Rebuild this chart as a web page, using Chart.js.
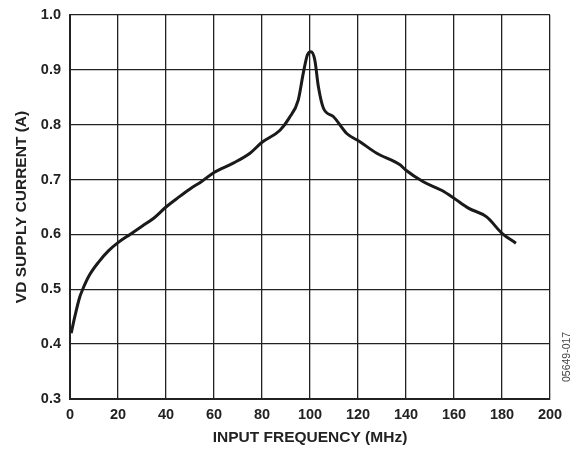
<!DOCTYPE html>
<html lang="en">
<head>
    <meta charset="UTF-8">
    <title>VD Supply Current vs Input Frequency</title>
    <script src="https://cdn.jsdelivr.net/npm/chart.js"></script>
    <style>
        html, body { margin: 0; padding: 0; background: #fff; }
        #wrap { width: 574px; height: 450px; position: relative; }
    </style>
</head>
<body>
    <div id="wrap"><canvas id="currentChart"></canvas></div>
    <script>
        // values
        const freqMHz = [0.5, 2, 4, 5.3, 8, 12, 16, 20, 25, 30, 35, 40, 45, 50, 55, 60, 68, 75, 80, 87.5, 91.3, 95.1, 97.2, 98.9, 100.4, 102, 103.5, 105.6, 109.7, 115.3, 120.8, 127.8, 137.5, 140, 147.2, 155, 160, 166, 173.6, 180, 185.8];
        const supplyCurrent = [0.42, 0.45, 0.485, 0.50, 0.525, 0.55, 0.57, 0.585, 0.60, 0.615, 0.63, 0.65, 0.667, 0.683, 0.697, 0.713, 0.73, 0.748, 0.768, 0.79, 0.812, 0.845, 0.894, 0.927, 0.933, 0.918, 0.869, 0.83, 0.815, 0.784, 0.769, 0.748, 0.727, 0.717, 0.696, 0.68, 0.666, 0.648, 0.632, 0.602, 0.584];
        const xTicks = [0, 20, 40, 60, 80, 100, 120, 140, 160, 180, 200];
        const yTicks = [0.3, 0.4, 0.5, 0.6, 0.7, 0.8, 0.9, 1.0];

        const points = freqMHz.map((f, i) => ({ x: f, y: supplyCurrent[i] }));
        const tickFont = { family: '"Liberation Sans", Arial, sans-serif', size: 14.5, weight: 'bold' };
        const titleFont = { family: '"Liberation Sans", Arial, sans-serif', size: 15.5, weight: 'bold' };

        // small figure number on the right edge
        const figureCode = {
            id: 'figureCode',
            afterDraw(chart) {
                const c = chart.ctx;
                c.save();
                c.translate(567, 382);
                c.rotate(-Math.PI / 2);
                c.font = '10.5px "Liberation Sans", Arial, sans-serif';
                c.fillStyle = '#444';
                c.textAlign = 'left';
                c.textBaseline = 'middle';
                c.fillText('05649-017', 0, 0);
                c.restore();
            }
        };

        const ctx = document.getElementById('currentChart').getContext('2d');
        const currentChart = new Chart(ctx, {
            type: 'line',
            data: {
                datasets: [{
                    label: 'VD Supply Current',
                    data: points,
                    borderColor: '#1a1a1a',
                    borderWidth: 3,
                    pointRadius: 0,
                    fill: false,
                    cubicInterpolationMode: 'monotone'
                }]
            },
            options: {
                responsive: true,
                maintainAspectRatio: false,
                animation: false,
                layout: { padding: { top: 15, right: 24, left: 0, bottom: 0 } },
                plugins: { legend: { display: false }, tooltip: { enabled: false } },
                scales: {
                    x: {
                        type: 'linear',
                        min: 0,
                        max: 200,
                        afterBuildTicks: (s) => { s.ticks = xTicks.map(v => ({ value: v })); },
                        afterFit: (s) => { s.height = 51; s.paddingLeft = 0; s.paddingRight = 0; },
                        grid: { color: '#222', lineWidth: 1.3, drawTicks: false },
                        border: { color: '#222', width: 2 },
                        ticks: { color: '#222', font: tickFont, padding: 7, maxRotation: 0 },
                        title: { display: true, text: 'INPUT FREQUENCY (MHz)', color: '#222', font: titleFont, padding: { top: 0, bottom: 3 } }
                    },
                    y: {
                        min: 0.3,
                        max: 1.0,
                        afterBuildTicks: (s) => { s.ticks = yTicks.map(v => ({ value: v })); },
                        afterFit: (s) => { s.width = 70; s.paddingTop = 0; s.paddingBottom = 0; },
                        grid: { color: '#222', lineWidth: 1.3, drawTicks: false },
                        border: { color: '#222', width: 2 },
                        ticks: { color: '#222', font: tickFont, padding: 9, callback: (v) => v.toFixed(1) },
                        title: { display: true, text: 'VD SUPPLY CURRENT (A)', color: '#222', font: titleFont, padding: { top: 12, bottom: 0 } }
                    }
                }
            },
            plugins: [figureCode]
        });
    </script>
</body>
</html>
